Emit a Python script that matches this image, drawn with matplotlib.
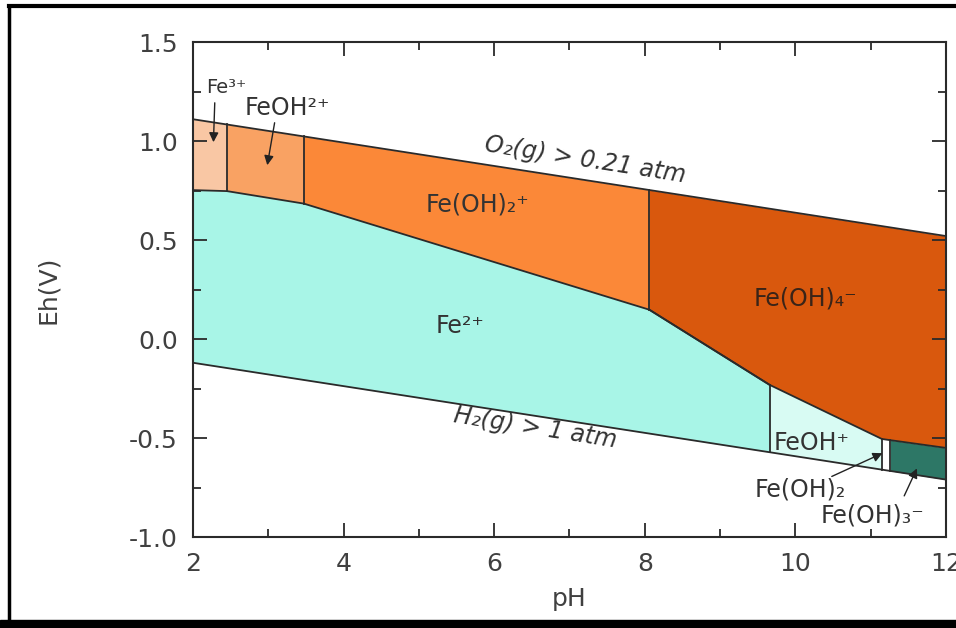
import matplotlib
matplotlib.use('Agg')
import matplotlib.pyplot as plt
import numpy as np
from matplotlib.lines import Line2D
from matplotlib.patches import Rectangle

plt.rcParams['font.family'] = ['DejaVu Sans']

# water stability lines
ph_o2 = [2, 12]
eh_o2 = [1.11, 0.52]
ph_h2 = [2, 12]
eh_h2 = [-0.12, -0.71]

# Fe2+ upper boundary (Fe3+, FeOH2+, Fe(OH)2+, Fe(OH)4-)
ph_fe2_top = [2, 2.45, 3.47, 8.06, 9.66]
eh_fe2_top = [0.752, 0.747, 0.684, 0.148, -0.232]

# Fe(OH)4- lower boundary (Fe2+, FeOH+, Fe(OH)2, Fe(OH)3-)
ph_feoh4_low = [8.06, 9.66, 11.15, 12]
eh_feoh4_low = [0.148, -0.232, -0.505, -0.55]

# vertical boundaries
ph_fe3_feoh = 2.45
ph_feoh_feoh2 = 3.47
ph_feoh2_feoh4 = 8.06
ph_fe2_feohp = 9.66
ph_feohp_feoh2s = 11.15
ph_feoh2s_feoh3 = 11.26

colors = {
    'Fe3+': '#f9c7a4',
    'FeOH2+': '#f9a263',
    'Fe(OH)2+': '#fb8838',
    'Fe(OH)4-': '#d9580d',
    'Fe2+': '#a8f5e7',
    'FeOH+': '#d8fbf3',
    'Fe(OH)2': '#ffffff',
    'Fe(OH)3-': '#2d7766',
}


def o2(x):
    return np.interp(x, ph_o2, eh_o2)


def h2(x):
    return np.interp(x, ph_h2, eh_h2)


def fe2top(x):
    return np.interp(x, ph_fe2_top, eh_fe2_top)


def feoh4low(x):
    return np.interp(x, ph_feoh4_low, eh_feoh4_low)


fig = plt.figure(figsize=(9.56, 6.28), dpi=100)
ax = fig.add_axes([0.2019, 0.1449, 0.7876, 0.7882])


def region(x0, x1, top, bot, c):
    xs = np.linspace(x0, x1, 200)
    ax.fill_between(xs, bot(xs), top(xs), color=c, lw=0)


region(2, ph_fe3_feoh, o2, fe2top, colors['Fe3+'])
region(ph_fe3_feoh, ph_feoh_feoh2, o2, fe2top, colors['FeOH2+'])
region(ph_feoh_feoh2, ph_feoh2_feoh4, o2, fe2top, colors['Fe(OH)2+'])
region(ph_feoh2_feoh4, 12, o2, feoh4low, colors['Fe(OH)4-'])
region(2, ph_fe2_feohp, fe2top, h2, colors['Fe2+'])
region(ph_fe2_feohp, ph_feohp_feoh2s, feoh4low, h2, colors['FeOH+'])
region(ph_feohp_feoh2s, ph_feoh2s_feoh3, feoh4low, h2, colors['Fe(OH)2'])
region(ph_feoh2s_feoh3, 12, feoh4low, h2, colors['Fe(OH)3-'])

lc = '#2a2a2a'
lw = 1.3
ax.plot(ph_o2, eh_o2, color=lc, lw=lw)
ax.plot(ph_h2, eh_h2, color=lc, lw=lw)
ax.plot(ph_fe2_top, eh_fe2_top, color=lc, lw=lw)
ax.plot(ph_feoh4_low, eh_feoh4_low, color=lc, lw=lw)
for p in [ph_fe3_feoh, ph_feoh_feoh2, ph_feoh2_feoh4]:
    ax.plot([p, p], [fe2top(p), o2(p)], color=lc, lw=lw)
for p in [ph_fe2_feohp, ph_feohp_feoh2s, ph_feoh2s_feoh3]:
    ax.plot([p, p], [h2(p), feoh4low(p)], color=lc, lw=lw)

ax.set_xlim(2, 12)
ax.set_ylim(-1.0, 1.5)
ax.set_xticks([2, 4, 6, 8, 10, 12])
ax.set_xticks([3, 5, 7, 9, 11], minor=True)
ax.set_yticks([-1.0, -0.5, 0.0, 0.5, 1.0, 1.5])
ax.set_yticks([-0.75, -0.25, 0.25, 0.75, 1.25], minor=True)
ax.set_yticklabels(['-1.0', '-0.5', '0.0', '0.5', '1.0', '1.5'])
ax.tick_params(which='both', direction='in', top=True, right=True,
               labelsize=18, labelcolor='#404040', color='#2a2a2a', width=1.3)
ax.tick_params(which='major', length=10, pad=11)
ax.tick_params(which='minor', length=6)
for s in ax.spines.values():
    s.set_linewidth(1.5)
    s.set_color('#2a2a2a')

ax.set_xlabel('pH', fontsize=18, color='#404040')
ax.set_ylabel('Eh(V)', fontsize=18, color='#404040')
ax.xaxis.set_label_coords(0.5, -0.1)
ax.yaxis.set_label_coords(-0.177, 0.5)

tc = '#333333'
fs = 17
ax.text(5.78, 0.677, 'Fe(OH)₂⁺', fontsize=fs, color=tc, ha='center', va='center')
ax.text(5.55, 0.066, 'Fe²⁺', fontsize=fs, color=tc, ha='center', va='center')
ax.text(10.13, 0.207, 'Fe(OH)₄⁻', fontsize=fs, color='#3a2418', ha='center', va='center')
ax.text(10.22, -0.525, 'FeOH⁺', fontsize=fs, color=tc, ha='center', va='center')
ax.text(7.21, 0.904, 'O₂(g) > 0.21 atm', fontsize=fs, color=tc, ha='center', va='center',
        rotation=-8.9, style='italic')
ax.text(6.54, -0.449, 'H₂(g) > 1 atm', fontsize=fs, color=tc, ha='center', va='center',
        rotation=-8.9, style='italic')

ap = dict(arrowstyle='-|>', color='#222222', lw=1.0, mutation_scale=14)
ax.text(2.17, 1.27, 'Fe³⁺', fontsize=14, color=tc, ha='left', va='center')
ax.annotate('', xy=(2.27, 0.98), xytext=(2.29, 1.207), arrowprops=ap)
ax.text(2.68, 1.167, 'FeOH²⁺', fontsize=fs, color=tc, ha='left', va='center')
ax.annotate('', xy=(2.98, 0.864), xytext=(3.09, 1.106), arrowprops=ap)
ax.text(10.07, -0.758, 'Fe(OH)₂', fontsize=fs, color=tc, ha='center', va='center')
ax.annotate('', xy=(11.19, -0.571), xytext=(10.45, -0.70), arrowprops=ap)
ax.text(11.02, -0.889, 'Fe(OH)₃⁻', fontsize=fs, color=tc, ha='center', va='center')
ax.annotate('', xy=(11.63, -0.641), xytext=(11.43, -0.805), arrowprops=ap)

# outer frame of the picture
W, H = 956, 628
fig.add_artist(Line2D([9 / W, 9 / W], [8 / H, 1 - 6 / H], color='black', lw=2.5,
                      transform=fig.transFigure))
fig.add_artist(Line2D([9 / W, 1], [1 - 6 / H, 1 - 6 / H], color='black', lw=3,
                      transform=fig.transFigure))
fig.add_artist(Rectangle((0, 0), 1, 8 / H, color='black', transform=fig.transFigure))

fig.savefig('out.png', dpi=100)
